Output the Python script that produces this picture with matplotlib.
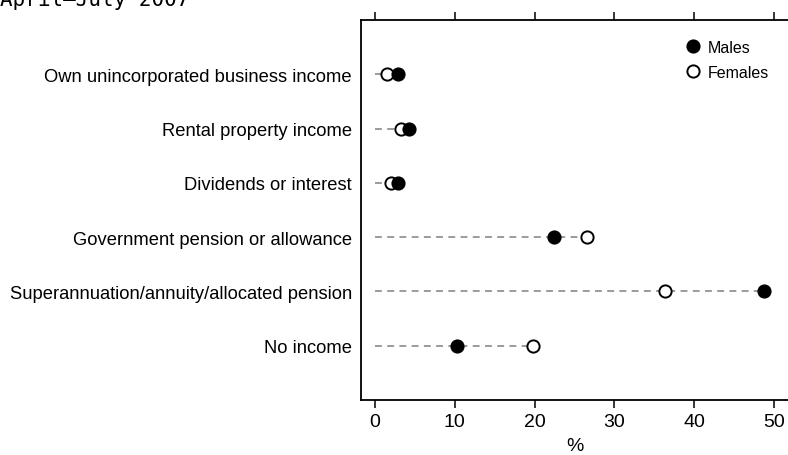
import numpy as np
import matplotlib.pyplot as plt

plt.rcParams['font.family'] = ['Liberation Sans', 'DejaVu Sans']

# data (per cent)
categories = ["Own unincorporated business income",
              "Rental property income",
              "Dividends or interest",
              "Government pension or allowance",
              "Superannuation/annuity/allocated pension",
              "No income"]
males = [2.9, 4.3, 2.9, 22.4, 48.7, 10.3]
females = [1.5, 3.3, 2.0, 26.6, 36.3, 19.8]
xticks = [0, 10, 20, 30, 40, 50]

fig = plt.figure(figsize=(7.88, 4.56), dpi=100)
ax = fig.add_axes([361 / 788, 55 / 456, 427 / 788, 380 / 456])

y = np.arange(1, len(categories) + 1)

# dashed guide lines from zero to the larger value
for yi, m, f in zip(y, males, females):
    ax.plot([0, max(m, f)], [yi, yi], color='#808080', linestyle=(0, (4.5, 3.5)),
            linewidth=1.1, zorder=1)

ax.plot(females, y, linestyle='none', marker='o', markersize=8.8,
        markerfacecolor='white', markeredgecolor='black', markeredgewidth=1.4,
        label='Females', zorder=2)
ax.plot(males, y, linestyle='none', marker='o', markersize=8.8,
        markerfacecolor='black', markeredgecolor='black', markeredgewidth=1.4,
        label='Males', zorder=3)

ax.set_xlim(-1.75, 51.75)
ax.set_ylim(7, 0)
ax.set_yticks(y)
ax.set_yticklabels(categories, fontsize=13.2)
ax.set_xticks(xticks)
ax.set_xticklabels([str(t) for t in xticks], fontsize=14)
ax.tick_params(axis='y', length=0, pad=6.5)
ax.tick_params(axis='x', top=True, direction='out', length=5.5, width=1.1, pad=4)
ax.spines['right'].set_visible(False)
for s in ['left', 'top', 'bottom']:
    ax.spines[s].set_linewidth(1.3)
ax.set_xlabel('%', fontsize=14, labelpad=5)

h, l = ax.get_legend_handles_labels()
ax.legend([h[1], h[0]], [l[1], l[0]], loc='upper right', frameon=False,
          fontsize=11.5, handletextpad=0.45, labelspacing=0.62, handlelength=1.0,
          bbox_to_anchor=(0.99, 0.985))

fig.text(0.0, 1 - 6 / 456, 'April\u2013July 2007', family='DejaVu Sans Mono',
         fontsize=15, va='baseline', ha='left')

fig.savefig('out.png', dpi=100)
